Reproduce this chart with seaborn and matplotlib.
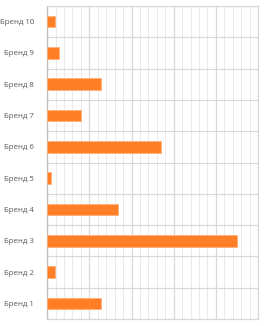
import numpy as np
import pandas as pd
import matplotlib
matplotlib.use("Agg")
import matplotlib.pyplot as plt
import seaborn as sns

# data (arbitrary units, axis 0..25)
brands = ["Бренд 10", "Бренд 9", "Бренд 8", "Бренд 7", "Бренд 6",
          "Бренд 5", "Бренд 4", "Бренд 3", "Бренд 2", "Бренд 1"]
values = [0.87, 1.46, 6.4, 3.96, 13.5, 0.47, 8.4, 22.5, 0.87, 6.4]

df = pd.DataFrame({"Brand": brands, "Value": values})

sns.set_style("white")
plt.rcParams["font.family"] = ["Open Sans", "DejaVu Sans"]

fig = plt.figure(figsize=(2.65, 3.26), dpi=100)
ax = fig.add_axes([0.178, 0.021, 0.796, 0.961])

sns.barplot(data=df, x="Value", y="Brand", orient="h", color="#FF7F27",
            width=0.38, edgecolor="#FFB07A", linewidth=0.6, ax=ax,
            saturation=1, zorder=3)

ax.set_xlim(0, 25)
ax.set_ylim(9.5, -0.5)

# grid
ax.set_xticks(np.arange(0, 26, 5))
ax.set_xticks(np.arange(0, 26, 1), minor=True)
ax.set_yticks(np.arange(-0.5, 10, 1), minor=True)
ax.grid(which="major", axis="x", color="#D9D9D9", linewidth=0.9, zorder=0)
ax.grid(which="minor", axis="x", color="#E6E6E6", linewidth=0.6, zorder=0)
ax.grid(which="minor", axis="y", color="#D9D9D9", linewidth=0.9, zorder=0)
ax.set_axisbelow(True)

ax.tick_params(axis="x", which="both", bottom=False, labelbottom=False)
ax.tick_params(axis="y", which="both", left=False, labelsize=5.7,
               labelcolor="#595959", pad=6)
ax.set_xlabel("")
ax.set_ylabel("")

for s in ["top", "right", "bottom"]:
    ax.spines[s].set_color("#D9D9D9")
    ax.spines[s].set_linewidth(0.9)
ax.spines["left"].set_color("#BFBFBF")
ax.spines["left"].set_linewidth(0.9)

fig.savefig("out.png", dpi=100)
